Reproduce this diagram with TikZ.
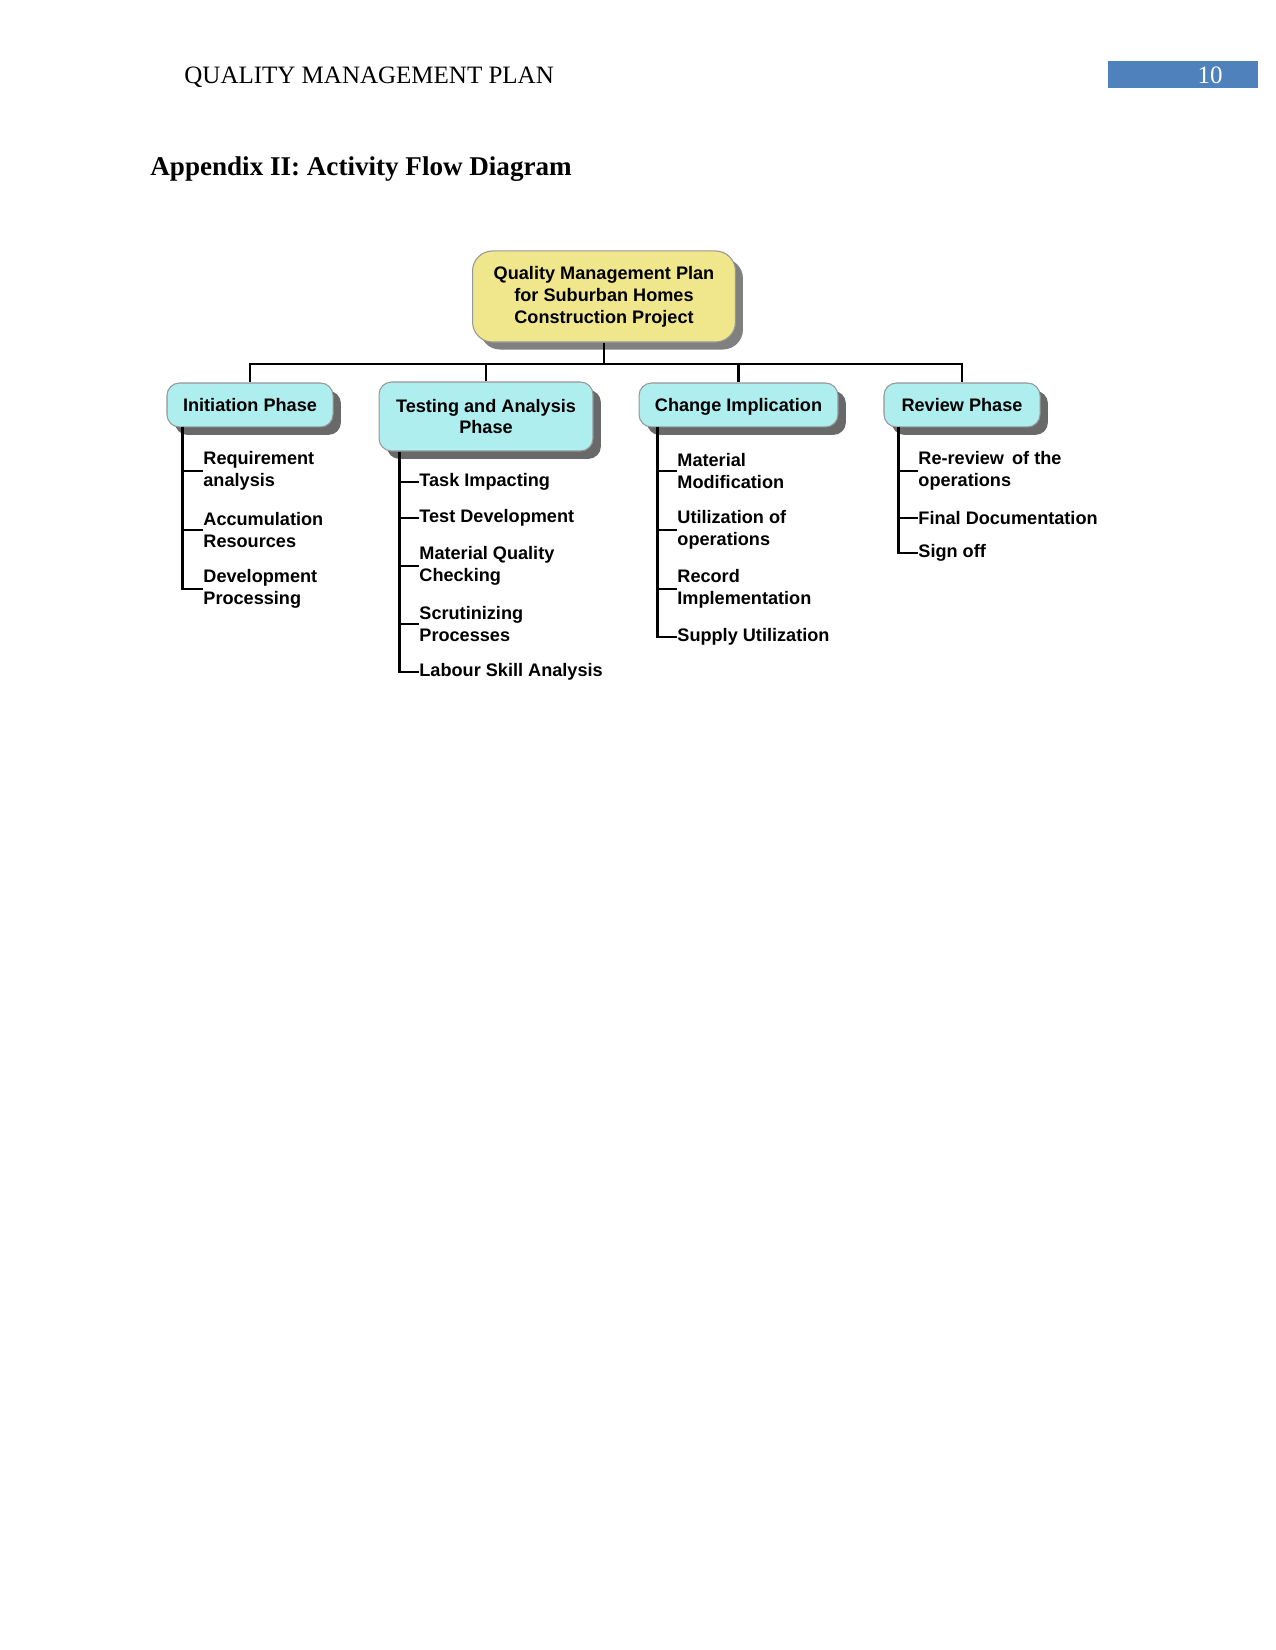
\documentclass[tikz,border=0pt]{standalone}
\usepackage{fontspec}
\setmainfont{Liberation Serif}
\newfontfamily\arialf{Liberation Sans}
\usetikzlibrary{calc,shadows}
\definecolor{hdrblue}{RGB}{79,129,189}
\definecolor{rootyellow}{RGB}{240,230,140}
\definecolor{phasecyan}{RGB}{175,238,238}
\definecolor{shadowgray}{RGB}{105,105,105}
\definecolor{boxborder}{RGB}{150,150,150}
\newcommand{\boxfont}{\arialf\bfseries\fontsize{8.7}{10.5}\selectfont}
\tikzset{
  rootbox/.style={draw=boxborder, line width=0.5pt, fill=rootyellow, rounded corners=9.6pt,
    minimum width=126.2pt, minimum height=43.7pt, align=center, font=\boxfont, inner sep=0pt,
    drop shadow={shadow xshift=3.6pt, shadow yshift=-3.6pt, fill=shadowgray!85, opacity=1}},
  phasebox/.style={draw=boxborder, line width=0.5pt, fill=phasecyan, rounded corners=6pt,
    minimum height=21.1pt, align=center, font=\boxfont, inner sep=0pt,
    drop shadow={shadow xshift=3.8pt, shadow yshift=-3.8pt, fill=shadowgray, opacity=1}},
  oneline/.style={text height=6.4pt, text depth=0pt},
  item/.style={anchor=west, inner sep=0pt, align=left, font=\boxfont},
  tree/.style={line width=1pt},
  branch/.style={line width=1.3pt},
}
\begin{document}
\begin{tikzpicture}[x=0.48pt, y=-0.48pt]
\useasboundingbox (0,0) rectangle (1275,1650);
% header
\node[anchor=base west, inner sep=0pt, font=\fontsize{12}{14}\selectfont] (hdr) at (184,84) {QUALITY MANAGEMENT PLAN};
\node[fill=hdrblue, minimum width=72pt, minimum height=13pt, inner sep=0pt, anchor=north west] (pgbox) at (1108,61) {};
\node[anchor=base east, inner sep=0pt, text=white, font=\fontsize{12}{14}\selectfont] (pgnum) at (1223,84) {10};
\node[anchor=base west, inner sep=0pt, font=\bfseries\fontsize{13}{15}\selectfont] (title) at (150,176) {Appendix II: Activity Flow Diagram};
% root
\node[rootbox] (root) at (604,296.5) {Quality Management Plan\\for Suburban Homes\\Construction Project};
% phases
\node[phasebox, oneline, minimum width=79.7pt] (c1) at (250,405) {Initiation Phase};
\node[phasebox, minimum width=102.7pt, minimum height=33.1pt] (c2) at (486,416.5) {Testing and Analysis\\Phase};
\node[phasebox, oneline, minimum width=95.5pt] (c3) at (738.5,405) {Change Implication};
\node[phasebox, oneline, minimum width=74.9pt] (c4) at (962,405) {Review Phase};
% bus
\coordinate (bus) at (604,364);
\draw[tree] (root.south) -- (root.south |- bus);
\draw[tree] (c1.north) -- (c1.north |- bus) -- (c4.north |- bus) -- (c4.north);
\draw[tree] (c2.north) -- (c2.north |- bus);
\draw[tree] (c3.north) -- (c3.north |- bus);
% Initiation items
\node[item] (i1) at (203,471) {Requirement\\analysis};
\node[item] (i2) at (203,530) {Accumulation\\Resources};
\node[item] (i3) at (203,589) {Development\\Processing};
\coordinate (s1) at ($(c1.south west)+(16,0)$);
\draw[branch] (s1) |- (i3.west);
\draw[branch] (s1 |- i1.west) -- (i1.west);
\draw[branch] (s1 |- i2.west) -- (i2.west);
% Testing items
\node[item] (t1) at (419,482) {Task Impacting};
\node[item] (t2) at (419,518) {Test Development};
\node[item] (t3) at (419,566) {Material Quality\\Checking};
\node[item] (t4) at (419,624) {Scrutinizing\\Processes};
\node[item] (t5) at (419,672) {Labour Skill Analysis};
\coordinate (s2) at ($(c2.south west)+(21,0)$);
\draw[branch] (s2) |- (t5.west);
\draw[branch] (s2 |- t1.west) -- (t1.west);
\draw[branch] (s2 |- t2.west) -- (t2.west);
\draw[branch] (s2 |- t3.west) -- (t3.west);
\draw[branch] (s2 |- t4.west) -- (t4.west);
% Change items
\node[item] (m1) at (677,471) {Material\\Modification};
\node[item] (m2) at (677,530) {Utilization of\\operations};
\node[item] (m3) at (677,589) {Record\\Implementation};
\node[item] (m4) at (677,637) {Supply Utilization};
\coordinate (s3) at ($(c3.south west)+(19,0)$);
\draw[branch] (s3) |- (m4.west);
\draw[branch] (s3 |- m1.west) -- (m1.west);
\draw[branch] (s3 |- m2.west) -- (m2.west);
\draw[branch] (s3 |- m3.west) -- (m3.west);
% Review items
\node[item] (r1) at (918,471) {Re-review\ \,of the\\operations};
\node[item] (r2) at (918,518) {Final Documentation};
\node[item] (r3) at (918,553) {Sign off};
\coordinate (s4) at ($(c4.south west)+(15,0)$);
\draw[branch] (s4) |- (r3.west);
\draw[branch] (s4 |- r1.west) -- (r1.west);
\draw[branch] (s4 |- r2.west) -- (r2.west);
\end{tikzpicture}
\end{document}
